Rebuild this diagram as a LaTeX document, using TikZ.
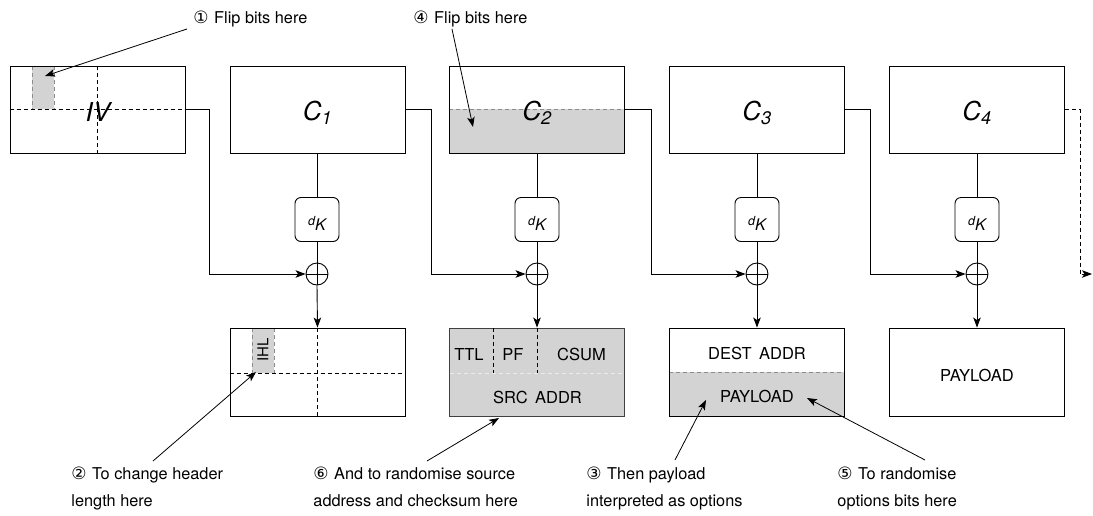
\documentclass[tikz,border=0pt]{standalone}
\usepackage{fontspec}
\setmainfont{TeX Gyre Heros}
\newfontfamily\symfont{DejaVu Sans}
\usetikzlibrary{arrows.meta}
\definecolor{cellgray}{HTML}{D3D3D3}
\definecolor{cellline}{HTML}{8C8C8C}
\newcommand{\cnum}[1]{{\symfont\fontsize{17}{17}\selectfont #1}\hspace{1pt}}
\tikzset{
  box/.style={draw, minimum width=175pt, minimum height=87pt, inner sep=0pt},
  dkbox/.style={draw, rounded corners=6pt, minimum size=44pt, inner sep=0pt},
  xorc/.style={draw, circle, minimum size=22pt, inner sep=0pt},
  arr/.style={-{Stealth[length=10pt,width=7.5pt,inset=2.5pt]}},
  dsh/.style={dash pattern=on 4pt off 3pt},
  bigtext/.style={font=\fontsize{26}{26}\selectfont\itshape, inner sep=0pt},
  fieldtext/.style={font=\fontsize{16.5}{16.5}\selectfont, inner sep=0pt},
  dktext/.style={inner sep=0pt},
  lbl/.style={font=\fontsize{16.3}{27}\selectfont, anchor=base west, align=left, inner sep=0pt}
}
\begin{document}
\begin{tikzpicture}[x=1pt,y=-1pt,line width=0.9pt]
\useasboundingbox (0,0) rectangle (1093,515);

% ---- shaded regions (drawn first)
\fill[cellgray] (32,66) rectangle (54,109);
\draw[cellline,dsh,line width=0.7pt] (32,66) -- (32,109) (54,66) -- (54,109);
\fill[cellgray] (449,109) rectangle (625,153);
\draw[cellline,dsh,line width=0.7pt] (449,109) -- (625,109);
\fill[cellgray] (252,328) rectangle (274,373);
\draw[cellline,dsh,line width=0.7pt] (252,328) -- (252,373) (274,328) -- (274,373);
\fill[cellgray] (669,372) rectangle (845,416);
\draw[cellline,dsh,line width=0.7pt] (669,372) -- (845,372);

% ---- top cipher blocks
\node[box] (iv) at (97.5,109.5) {};
\node[box] (c1) at (317.5,109.5) {};
\node[box] (c2) at (537,109.5) {};
\node[box] (c3) at (757,109.5) {};
\node[box] (c4) at (977,109.5) {};
\draw[dsh] (iv.west) -- (iv.east);
\draw[dsh] (97,66) -- (97,153);
\node[bigtext] (ivt) at (98,112) {IV};
\node[bigtext] (c1t) at (317.5,113) {C\textsubscript{\itshape 1}};
\node[bigtext] (c2t) at (537,113) {C\textsubscript{\itshape 2}};
\node[bigtext] (c3t) at (757,113) {C\textsubscript{\itshape 3}};
\node[bigtext] (c4t) at (977,113) {C\textsubscript{\itshape 4}};

% ---- decryption boxes
\foreach \i/\x in {1/317,2/537,3/757,4/977}{
  \node[dkbox] (dk\i) at (\x,219.5) {};
  \node[dktext] (dkt\i) at (\x,223.5) {{\fontsize{12.5}{12.5}\selectfont\itshape d}\raisebox{-5pt}{\fontsize{16}{16}\selectfont\itshape K}};
  \node[xorc] (x\i) at (\x,274) {};
  \draw (x\i.north) -- (x\i.south) (x\i.west) -- (x\i.east);
  \draw (c\i.south -| dk\i) -- (dk\i.north);
  \draw (dk\i.south) -- (x\i.north);
}

% ---- plaintext blocks
\node[box, minimum height=88pt] (p1) at (317.5,372) {};
\node[box, minimum height=88pt, fill=cellgray, draw=black!75] (p2) at (537,372) {};
\node[box, minimum height=88pt] (p3) at (757,372) {};
\node[box, minimum height=88pt] (p4) at (977,372) {};

\draw[dsh] (p1.west |- 0,373) -- (p1.east |- 0,373);
\draw[dsh] (317,328) -- (317,416);
\node[font=\fontsize{15}{15}\selectfont, inner sep=0pt, rotate=90] (ihl) at (263,350) {IHL};

\draw[dsh] (493,328) -- (493,373) (537,328) -- (537,373);
\draw[white!55!cellgray,dsh,line width=0.5pt] (450,373) -- (624,373);
\node[fieldtext] (ttl) at (469,354) {TTL};
\node[fieldtext] (pf) at (513,354) {PF};
\node[fieldtext] (csum) at (581.5,354) {CSUM};
\node[fieldtext] (src) at (537.5,397.5) {SRC\hspace{0.45em}ADDR};

\node[fieldtext] (dest) at (757,353.5) {DEST\hspace{0.45em}ADDR};
\node[fieldtext] (pay3) at (757,396.5) {PAYLOAD};
\node[fieldtext] (pay4) at (977,375) {PAYLOAD};

% ---- chaining connectors
\draw[arr] (iv.east) -- ++(24,0) |- (x1.west);
\draw[arr] (c1.east) -- ++(26,0) |- (x2.west);
\draw[arr] (c2.east) -- ++(26,0) |- (x3.west);
\draw[arr] (c3.east) -- ++(25,0) |- (x4.west);
\coordinate (out) at (1092,274);
\draw[arr,dsh] (c4.east) -- ++(15,0) |- (out);
\foreach \i in {1,2,3,4}{ \draw[arr] (x\i.south) -- (p\i.north); }

% ---- annotations (base anchor = baseline of last line)
\node[lbl] (l1) at (193,23) {\cnum{①} Flip bits here};
\node[lbl] (l4) at (413,23) {\cnum{④} Flip bits here};
\node[lbl] (l2) at (71,506) {\cnum{②} To change header\\length here};
\node[lbl] (l6) at (313,506) {\cnum{⑥} And to randomise source\\address and checksum here};
\node[lbl] (l3) at (586,506) {\cnum{③} Then payload\\interpreted as options};
\node[lbl] (l5) at (837,506) {\cnum{⑤} To randomise\\options bits here};

\coordinate (s1) at (187,29);  \coordinate (t1) at (45,76);
\coordinate (s4) at (452,29);  \coordinate (t4) at (473,127);
\coordinate (s2) at (153,461); \coordinate (t2) at (256,372);
\coordinate (s6) at (427,461); \coordinate (t6) at (499,418);
\coordinate (s3) at (675,460); \coordinate (t3) at (706,400);
\coordinate (s5) at (925,460); \coordinate (t5) at (807,398);
\foreach \k in {1,4,2,6,3,5}{ \draw[arr,line width=0.8pt] (s\k) -- (t\k); }
\end{tikzpicture}
\end{document}
